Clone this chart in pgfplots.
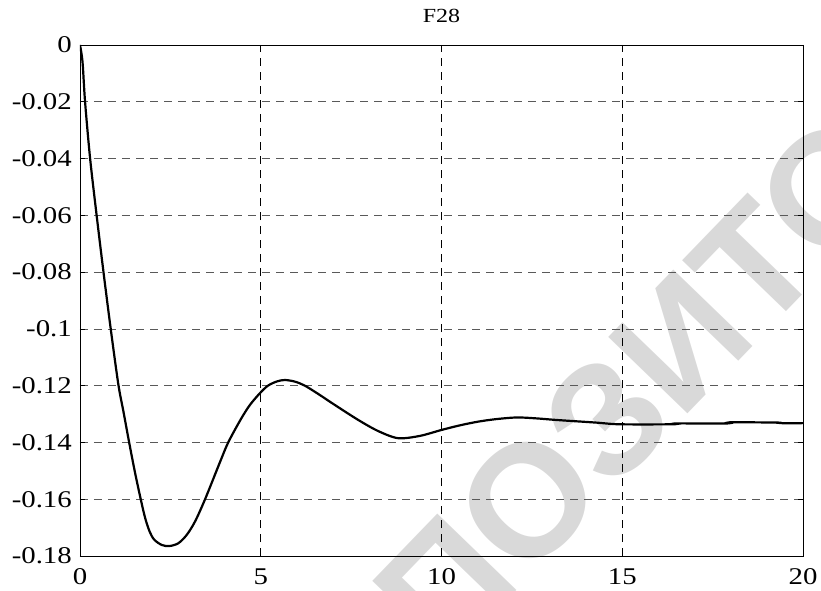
\documentclass[border=0pt]{standalone}
\usepackage{graphicx}
\usepackage{fontspec}
\setmainfont{Liberation Serif}
\newfontfamily\wmfont{Liberation Sans}
\usepackage{pgfplots}
\pgfplotsset{compat=1.18}
\definecolor{wm}{RGB}{217,217,217}
\newcommand\sx[1]{\scalebox{1.2}[1]{#1}}
\begin{document}
\begin{tikzpicture}
\useasboundingbox (-80pt,-34pt) rectangle (741pt,556pt);
\node[overlay, rotate=46, anchor=base west, inner sep=0pt, text=wm,
      font=\wmfont\bfseries\fontsize{160}{160}\selectfont] at (364.7pt,-110pt) {ПОЗИТОРИЙ};
\begin{axis}[
  at={(0pt,0pt)}, anchor=south west,
  scale only axis, width=723pt, height=511pt,
  xmin=0, xmax=20, ymin=-0.18, ymax=0,
  xtick={0,5,10,15,20},
  xticklabels={\sx{0},\sx{5},\sx{10},\sx{15},\sx{20}},
  ytick={-0.18,-0.16,-0.14,-0.12,-0.1,-0.08,-0.06,-0.04,-0.02,0},
  yticklabels={\sx{-0.18},\sx{-0.16},\sx{-0.14},\sx{-0.12},\sx{-0.1},\sx{-0.08},\sx{-0.06},\sx{-0.04},\sx{-0.02},\sx{0}},
  axis line style={black, line width=0.8pt},
  tick align=inside, major tick length=5pt,
  tick style={black, line width=0.6pt},
  grid=major,
  x grid style={black, line width=0.6pt, dash pattern=on 8pt off 6pt},
  y grid style={black!65, line width=0.6pt, dash pattern=on 8pt off 6pt},
  xticklabel style={font=\fontsize{24}{24}\selectfont, anchor=base, inner sep=0pt, yshift=-28pt},
  yticklabel style={font=\fontsize{24}{24}\selectfont, anchor=east, inner sep=0pt, xshift=-8pt},
  title={\sx{F28}},
  title style={font=\fontsize{20}{20}\selectfont, at={(0.5,1)}, anchor=base, inner sep=0pt, yshift=16.7pt},
]
\addplot[black, line width=2.2pt, smooth, tension=0.5] coordinates {
(0,0) (0.07,-0.006) (0.14,-0.020) (0.28,-0.040) (0.46,-0.060)
(0.65,-0.080) (0.85,-0.100) (1.06,-0.1195) (1.20,-0.1290) (1.36,-0.1400)
(1.52,-0.1505) (1.68,-0.1600) (1.80,-0.1665) (1.92,-0.1712) (2.05,-0.1742)
(2.26,-0.1761) (2.47,-0.1765) (2.72,-0.1755) (2.95,-0.1726) (3.18,-0.1679)
(3.46,-0.1600) (3.87,-0.1470) (4.10,-0.1400) (4.45,-0.1318) (4.70,-0.1268)
(4.98,-0.1226) (5.20,-0.1200) (5.45,-0.1185) (5.67,-0.1180) (5.95,-0.1186)
(6.22,-0.1200) (6.60,-0.1230) (7.05,-0.1268) (7.70,-0.1321) (8.25,-0.1360)
(8.80,-0.1385) (9.40,-0.1377) (10.0,-0.1356) (10.5,-0.1340) (11.0,-0.1327)
(11.5,-0.1318) (12.08,-0.1312) (12.6,-0.1315) (13.2,-0.1321) (14.27,-0.1330)
(14.93,-0.1336) (16.4,-0.1336) (16.5,-0.1333) (17.9,-0.1333) (18.0,-0.1329)
(19.3,-0.1330) (19.4,-0.1332) (20,-0.1332)
};
\end{axis}
\end{tikzpicture}
\end{document}
